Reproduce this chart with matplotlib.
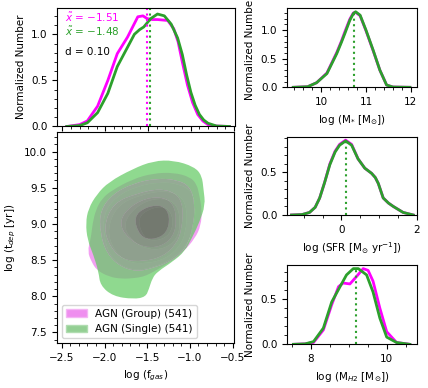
import numpy as np
import matplotlib
matplotlib.use("Agg")
import matplotlib.pyplot as plt
from matplotlib.path import Path
from matplotlib.patches import PathPatch, Patch

plt.rcParams['font.family'] = ['DejaVu Sans']
plt.rcParams['font.size'] = 7.5
plt.rcParams['mathtext.fontset'] = 'dejavusans'

# ---------------- data: 1D KDE curves ----------------
# f_gas panel
fgas_x_single = [-2.45, -2.30, -2.21, -2.09, -1.97, -1.86, -1.74, -1.66, -1.60, -1.55, -1.47, -1.39,
                 -1.31, -1.23, -1.155, -1.10, -1.05, -1.00, -0.95, -0.90, -0.85, -0.80, -0.70, -0.55]
fgas_y_single = [0.0, 0.01, 0.04, 0.15, 0.36, 0.65, 0.86, 1.00, 1.05, 1.08, 1.17, 1.22,
                 1.20, 1.11, 0.96, 0.78, 0.56, 0.37, 0.23, 0.13, 0.07, 0.035, 0.005, 0.0]
fgas_x_group = [-2.45, -2.30, -2.21, -2.09, -1.97, -1.86, -1.74, -1.68, -1.62, -1.56, -1.51, -1.45,
                -1.39, -1.27, -1.20, -1.15, -1.10, -1.04, -0.98, -0.92, -0.86, -0.80, -0.70, -0.55]
fgas_y_group = [0.0, 0.02, 0.06, 0.22, 0.50, 0.79, 0.97, 1.08, 1.19, 1.20, 1.17, 1.16,
                1.16, 1.15, 1.06, 0.92, 0.70, 0.45, 0.26, 0.13, 0.06, 0.02, 0.005, 0.0]
fgas_median_group = -1.51
fgas_median_single = -1.48
fgas_d = 0.10

# stellar mass panel
mstar_x = [9.38, 9.70, 9.90, 10.13, 10.35, 10.45, 10.53, 10.64, 10.72, 10.77, 10.87, 11.00,
           11.16, 11.31, 11.46, 11.60, 11.98]
mstar_y_single = [0.0, 0.01, 0.08, 0.24, 0.59, 0.78, 0.94, 1.17, 1.29, 1.32, 1.26, 1.00,
                  0.65, 0.30, 0.04, 0.005, 0.0]
mstar_y_group = [0.0, 0.01, 0.08, 0.25, 0.61, 0.80, 0.97, 1.19, 1.30, 1.31, 1.25, 0.99,
                 0.64, 0.30, 0.04, 0.005, 0.0]
mstar_median = 10.74
mstar_median_height = 1.30

# SFR panel
sfr_x = [-1.33, -1.05, -0.85, -0.70, -0.58, -0.45, -0.31, -0.17, -0.05, 0.11, 0.27, 0.44,
         0.62, 0.80, 0.90, 0.98, 1.11, 1.25, 1.38, 1.64, 1.91]
sfr_y_single = [0.0, 0.005, 0.03, 0.09, 0.20, 0.38, 0.59, 0.74, 0.82, 0.87, 0.82, 0.66,
                0.55, 0.49, 0.44, 0.37, 0.20, 0.14, 0.10, 0.03, 0.0]
sfr_y_group = [0.0, 0.005, 0.03, 0.09, 0.20, 0.38, 0.60, 0.75, 0.83, 0.88, 0.83, 0.66,
               0.55, 0.49, 0.44, 0.37, 0.20, 0.14, 0.10, 0.03, 0.0]
sfr_median = 0.13
sfr_median_height = 0.86

# M_H2 panel
mh2_x_single = [7.54, 7.85, 8.07, 8.33, 8.55, 8.77, 8.94, 9.12, 9.25, 9.47, 9.64, 9.82, 10.00, 10.26, 10.61]
mh2_y_single = [0.0, 0.005, 0.03, 0.18, 0.47, 0.64, 0.77, 0.84, 0.84, 0.77, 0.58, 0.29, 0.08, 0.02, 0.0]
mh2_x_group = [7.54, 7.85, 8.07, 8.33, 8.55, 8.73, 8.85, 9.03, 9.20, 9.38, 9.51, 9.64, 9.82, 10.00, 10.26, 10.61]
mh2_y_group = [0.0, 0.005, 0.02, 0.16, 0.44, 0.64, 0.68, 0.67, 0.75, 0.84, 0.82, 0.70, 0.40, 0.14, 0.02, 0.0]
mh2_median = 9.20
mh2_median_height = 0.83

# ---------------- data: 2D density contour outlines (outer -> inner) ----------------
group_contour_1 = [(-1.92, 9.46), (-1.67, 9.62), (-1.43, 9.70), (-1.19, 9.71), (-1.00, 9.65), (-0.92, 9.55),
                   (-0.89, 9.40), (-0.86, 9.20), (-0.87, 8.98), (-0.94, 8.80), (-1.08, 8.61), (-1.22, 8.48),
                   (-1.38, 8.37), (-1.47, 8.31), (-1.55, 8.27), (-1.65, 8.25), (-1.80, 8.24), (-1.95, 8.27),
                   (-2.09, 8.36), (-2.15, 8.47), (-2.20, 8.62), (-2.16, 8.80), (-2.14, 9.01), (-2.10, 9.20),
                   (-2.03, 9.35)]
group_contour_2 = [(-2.01, 9.15), (-1.86, 9.38), (-1.62, 9.52), (-1.35, 9.58), (-1.12, 9.55), (-0.98, 9.45),
                   (-0.93, 9.25), (-0.95, 8.95), (-1.04, 8.70), (-1.20, 8.52), (-1.41, 8.41), (-1.60, 8.36),
                   (-1.78, 8.40), (-1.94, 8.56), (-2.01, 8.84)]
group_contour_3 = [(-1.85, 9.26), (-1.58, 9.40), (-1.31, 9.46), (-1.11, 9.40), (-1.03, 9.20), (-1.05, 8.88),
                   (-1.12, 8.69), (-1.28, 8.52), (-1.51, 8.45), (-1.74, 8.47), (-1.90, 8.65), (-1.97, 8.93)]
group_contour_4 = [(-1.73, 9.12), (-1.54, 9.31), (-1.31, 9.36), (-1.15, 9.27), (-1.11, 9.02), (-1.15, 8.79),
                   (-1.31, 8.65), (-1.50, 8.65), (-1.66, 8.75), (-1.77, 8.93)]
group_contour_5 = [(-1.62, 9.08), (-1.46, 9.22), (-1.27, 9.24), (-1.19, 9.07), (-1.23, 8.85), (-1.39, 8.76),
                   (-1.54, 8.80)]

single_contour_1 = [(-1.95, 9.58), (-1.67, 9.76), (-1.43, 9.87), (-1.19, 9.88), (-0.95, 9.79),
                    (-0.86, 9.67), (-0.84, 9.47), (-0.82, 9.26), (-0.89, 9.02), (-0.97, 8.82),
                    (-1.06, 8.62), (-1.20, 8.48), (-1.38, 8.34), (-1.44, 8.25), (-1.48, 8.10),
                    (-1.52, 7.99), (-1.66, 7.96), (-1.90, 8.00), (-2.05, 8.15), (-2.07, 8.34),
                    (-2.13, 8.57), (-2.20, 8.78), (-2.22, 9.01), (-2.19, 9.21), (-2.09, 9.41)]
single_contour_2 = [(-2.052, 9.19), (-1.896, 9.42), (-1.663, 9.56), (-1.389, 9.63), (-1.155, 9.61),
                    (-1.00, 9.52), (-0.941, 9.29), (-0.961, 8.96), (-1.038, 8.68), (-1.195, 8.50),
                    (-1.429, 8.39), (-1.623, 8.34), (-1.818, 8.41), (-1.974, 8.59), (-2.052, 8.87)]
single_contour_3 = [(-1.896, 9.29), (-1.623, 9.42), (-1.35, 9.49), (-1.155, 9.42), (-1.078, 9.24),
                    (-1.097, 8.92), (-1.155, 8.73), (-1.312, 8.55), (-1.546, 8.48), (-1.78, 8.50),
                    (-1.935, 8.68), (-2.013, 8.96)]
single_contour_4 = [(-1.78, 9.15), (-1.584, 9.33), (-1.35, 9.38), (-1.195, 9.29), (-1.155, 9.05),
                    (-1.195, 8.82), (-1.35, 8.68), (-1.546, 8.68), (-1.701, 8.78), (-1.818, 8.96)]
single_contour_5 = [(-1.663, 9.10), (-1.506, 9.24), (-1.312, 9.26), (-1.233, 9.10), (-1.272, 8.87),
                    (-1.429, 8.78), (-1.584, 8.82)]

group_label = 'AGN (Group) (541)'
single_label = 'AGN (Single) (541)'

# ---------------- styles ----------------
c_group_line = 'magenta'
c_single_line = '#2ca02c'
group_fill_colors = ['#ee82ee', '#dc8cdc', '#cd87cd', '#b97db9', '#a573a5']
single_fill_colors = ['#60ca60', '#6eaf6e', '#70a06e', '#6c9169', '#556e50']
group_alpha = 0.76
single_alpha = 0.7


def smooth_closed_path(points, reverse=False):
    pts = np.asarray(points, dtype=float)
    if reverse:
        pts = pts[::-1]
    mids = (pts + np.roll(pts, -1, axis=0)) / 2.0
    verts = [mids[-1]]
    codes = [Path.MOVETO]
    for i in range(len(pts)):
        verts += [pts[i], mids[i]]
        codes += [Path.CURVE3, Path.CURVE3]
    verts.append(mids[-1])
    codes.append(Path.CLOSEPOLY)
    return Path(verts, codes)


def draw_bands(ax, levels, colors, alpha):
    for i, (pts, col) in enumerate(zip(levels, colors)):
        outer = smooth_closed_path(pts)
        if i + 1 < len(levels):
            path = Path.make_compound_path(outer, smooth_closed_path(levels[i + 1], reverse=True))
        else:
            path = outer
        ax.add_patch(PathPatch(path, facecolor=col, edgecolor='none', alpha=alpha, lw=0))


fig = plt.figure(figsize=(4.28, 3.88), dpi=100)

ax_top = fig.add_axes([0.134, 0.674, 0.416, 0.3065])
ax_main = fig.add_axes([0.1325, 0.1152, 0.415, 0.5446], sharex=ax_top)
ax_r1 = fig.add_axes([0.6705, 0.775, 0.303, 0.2036])
ax_r2 = fig.add_axes([0.6705, 0.4459, 0.303, 0.2018])
ax_r3 = fig.add_axes([0.6705, 0.1126, 0.303, 0.2044])

# --- main 2D panel ---
group_levels = [group_contour_1, group_contour_2, group_contour_3, group_contour_4, group_contour_5]
single_levels = [single_contour_1, single_contour_2, single_contour_3, single_contour_4, single_contour_5]
draw_bands(ax_main, group_levels, group_fill_colors, group_alpha)
draw_bands(ax_main, single_levels, single_fill_colors, single_alpha)

ax_main.set_xlim(-2.56, -0.48)
ax_main.set_ylim(7.35, 10.27)
ax_main.set_xticks([-2.5, -2.0, -1.5, -1.0, -0.5])
ax_main.set_yticks([7.5, 8.0, 8.5, 9.0, 9.5, 10.0])
ax_main.set_xlabel(r'log (f$_{gas}$)')
ax_main.set_ylabel(r'log (t$_{dep}$ [yr])')
handles = [Patch(facecolor=group_fill_colors[0], edgecolor='#f4b4f4', alpha=0.9, label=group_label),
           Patch(facecolor='#93cf93', edgecolor='#b0dcb0', label=single_label)]
ax_main.legend(handles=handles, loc='lower left', fontsize=7.5)

# --- top f_gas panel ---
ax_top.plot(fgas_x_group, fgas_y_group, color=c_group_line, lw=2)
ax_top.plot(fgas_x_single, fgas_y_single, color=c_single_line, lw=2)
ax_top.axvline(fgas_median_group, color=c_group_line, ls=':', lw=1.5)
ax_top.axvline(fgas_median_single, color=c_single_line, ls=':', lw=1.5)
ax_top.set_ylim(0, 1.29)
ax_top.set_yticks([0.0, 0.5, 1.0])
ax_top.set_ylabel('Normalized Number')
ax_top.tick_params(axis='x', labelbottom=False)
ax_top.text(0.043, 0.92, r'$\tilde{x}$ = $-$%.2f' % abs(fgas_median_group), color=c_group_line,
            transform=ax_top.transAxes, va='center', ha='left')
ax_top.text(0.043, 0.795, r'$\tilde{x}$ = $-$%.2f' % abs(fgas_median_single), color=c_single_line,
            transform=ax_top.transAxes, va='center', ha='left')
ax_top.text(0.043, 0.63, 'd = %.2f' % fgas_d, color='black',
            transform=ax_top.transAxes, va='center', ha='left')

# --- right panels ---
ax_r1.plot(mstar_x, mstar_y_group, color=c_group_line, lw=2)
ax_r1.plot(mstar_x, mstar_y_single, color=c_single_line, lw=2)
ax_r1.vlines(mstar_median, 0, mstar_median_height, color=c_single_line, ls=':', lw=1.5)
ax_r1.set_xlim(9.24, 12.13)
ax_r1.set_ylim(0, 1.38)
ax_r1.set_xticks([10, 11, 12])
ax_r1.set_yticks([0.0, 0.5, 1.0])
ax_r1.set_xlabel(r'log (M$_{*}$ [M$_{\odot}$])')
ax_r1.set_ylabel('Normalized Number')

ax_r2.plot(sfr_x, sfr_y_group, color=c_group_line, lw=2)
ax_r2.plot(sfr_x, sfr_y_single, color=c_single_line, lw=2)
ax_r2.vlines(sfr_median, 0, sfr_median_height, color=c_single_line, ls=':', lw=1.5)
ax_r2.set_xlim(-1.45, 2.0)
ax_r2.set_ylim(0, 0.92)
ax_r2.set_xticks([0, 2])
ax_r2.set_yticks([0.0, 0.5])
ax_r2.set_xlabel(r'log (SFR [M$_{\odot}$ yr$^{-1}$])')
ax_r2.set_ylabel('Normalized Number')

ax_r3.plot(mh2_x_group, mh2_y_group, color=c_group_line, lw=2)
ax_r3.plot(mh2_x_single, mh2_y_single, color=c_single_line, lw=2)
ax_r3.vlines(mh2_median, 0, mh2_median_height, color=c_single_line, ls=':', lw=1.5)
ax_r3.set_xlim(7.37, 10.79)
ax_r3.set_ylim(0, 0.88)
ax_r3.set_xticks([8, 10])
ax_r3.set_yticks([0.0, 0.5])
ax_r3.set_xlabel(r'log (M$_{H2}$ [M$_{\odot}$])')
ax_r3.set_ylabel('Normalized Number')

for ax in [ax_top, ax_main, ax_r1, ax_r2, ax_r3]:
    ax.minorticks_on()
    ax.tick_params(which='major', length=3.5, width=0.8)
    ax.tick_params(which='minor', length=2, width=0.6)

fig.savefig('out.png', dpi=100)
